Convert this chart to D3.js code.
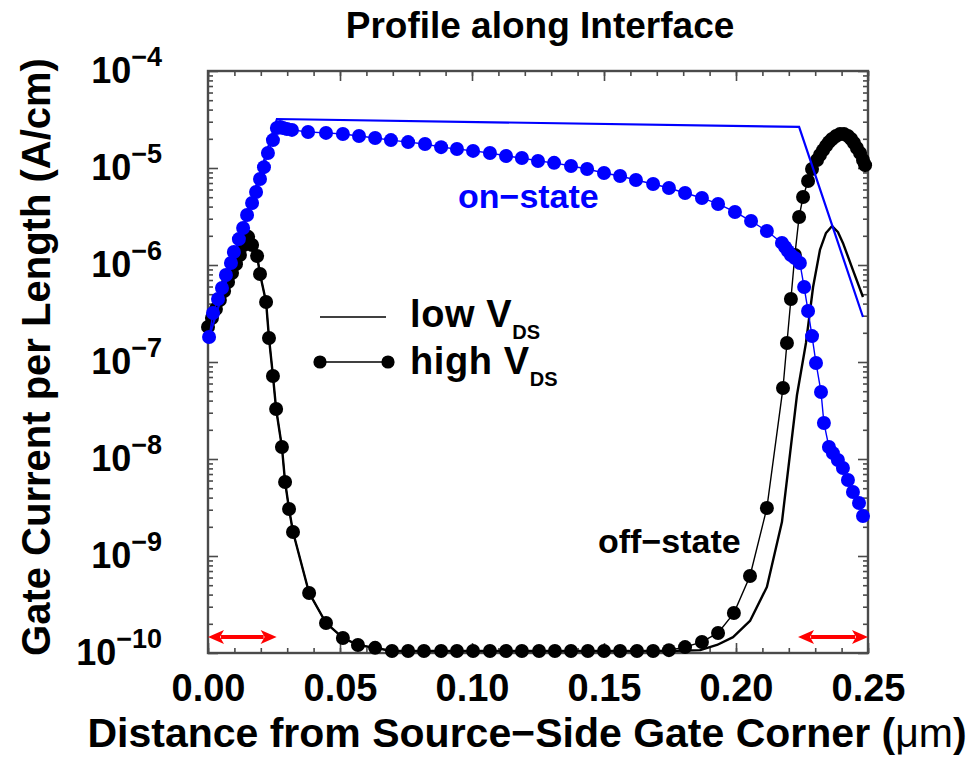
<!DOCTYPE html>
<html>
<head>
<meta charset="utf-8">
<script src="https://cdn.jsdelivr.net/npm/d3@7"></script>
<style>
  html, body { margin: 0; padding: 0; background: #fff; }
  svg { display: block; font-family: "Liberation Sans", Arial, Helvetica, sans-serif; }
</style>
</head>
<body>
<svg id="chart" width="976" height="767"></svg>
<script>
// ---- axis ticks ----
const xMajorTicks = [0, 0.05, 0.10, 0.15, 0.20, 0.25];
const xMinorTicks = d3.range(0, 26).map(i => i / 100);
const yDecadeExps = [-10, -9, -8, -7, -6, -5, -4];

// ---- off-state, part shared by low and high V_DS (source side and plateau) ----
const offSharedX = [0.0000, 0.0015, 0.0030, 0.0045, 0.0061, 0.0076, 0.0091, 0.0106, 0.0121, 0.0136,
  0.0152, 0.0167, 0.0186, 0.0197, 0.0220, 0.0231, 0.0246, 0.0258, 0.0280, 0.0292, 0.0307, 0.0322,
  0.0383, 0.0447, 0.0511, 0.0568, 0.0633, 0.0697, 0.0758, 0.0818, 0.0883, 0.0943, 0.1004, 0.1068,
  0.1129, 0.1189, 0.1254, 0.1314, 0.1375, 0.1439, 0.1500, 0.1561, 0.1625, 0.1686];
const offSharedY = [2.30e-7, 2.84e-7, 3.52e-7, 4.36e-7, 5.40e-7, 6.68e-7, 8.28e-7, 1.02e-6, 1.27e-6, 1.61e-6,
  1.95e-6, 1.61e-6, 1.24e-6, 8.07e-7, 4.16e-7, 1.77e-7, 7.18e-8, 3.28e-8, 1.33e-8, 5.80e-9, 3.05e-9, 1.77e-9,
  4.16e-10, 2.04e-10, 1.43e-10, 1.21e-10, 1.13e-10, 1.05e-10, 1.05e-10, 1.05e-10, 1.05e-10, 1.05e-10, 1.05e-10, 1.05e-10,
  1.05e-10, 1.05e-10, 1.05e-10, 1.05e-10, 1.05e-10, 1.05e-10, 1.05e-10, 1.05e-10, 1.05e-10, 1.05e-10];

// ---- off-state, drain side, high V_DS ----
const offHighTailX = [0.1746, 0.1807, 0.1871, 0.1932, 0.1992, 0.2053, 0.2117, 0.2178, 0.2193, 0.2208,
  0.2223, 0.2239, 0.2254, 0.2273, 0.2288, 0.2307, 0.2318, 0.2330, 0.2341, 0.2352, 0.2364, 0.2379,
  0.2394, 0.2409, 0.2424, 0.2436, 0.2447, 0.2458, 0.2470, 0.2481, 0.2489];
const offHighTailY = [1.07e-10, 1.15e-10, 1.30e-10, 1.61e-10, 2.58e-10, 6.22e-10, 3.13e-9, 5.40e-8, 1.57e-7, 4.46e-7,
  1.27e-6, 3.13e-6, 5.02e-6, 7.35e-6, 9.77e-6, 1.21e-5, 1.36e-5, 1.53e-5, 1.69e-5, 1.85e-5, 1.99e-5, 2.14e-5,
  2.24e-5, 2.24e-5, 2.14e-5, 1.99e-5, 1.81e-5, 1.61e-5, 1.43e-5, 1.21e-5, 1.07e-5];

// ---- off-state, drain side, low V_DS ----
const offLowTailX = [0.1746, 0.1864, 0.1928, 0.1989, 0.2053, 0.2117, 0.2174, 0.2205, 0.2231, 0.2265,
  0.2292, 0.2318, 0.2341, 0.2364, 0.2386, 0.2405, 0.2443, 0.2481];
const offLowTailY = [1.05e-10, 1.07e-10, 1.21e-10, 1.46e-10, 2.14e-10, 4.79e-10, 2.24e-9, 1.15e-8, 4.57e-8, 1.57e-7,
  5.93e-7, 1.43e-6, 2.14e-6, 2.52e-6, 2.19e-6, 1.69e-6, 8.87e-7, 4.68e-7];

// ---- on-state, high V_DS ----
const onHighX = [0.0004, 0.0019, 0.0038, 0.0053, 0.0068, 0.0087, 0.0098, 0.0117, 0.0133, 0.0148,
  0.0167, 0.0182, 0.0197, 0.0212, 0.0227, 0.0246, 0.0261, 0.0273, 0.0284, 0.0299, 0.0318, 0.0379,
  0.0447, 0.0511, 0.0572, 0.0633, 0.0693, 0.0758, 0.0822, 0.0883, 0.0943, 0.1004, 0.1068, 0.1129,
  0.1189, 0.1250, 0.1311, 0.1375, 0.1436, 0.1500, 0.1561, 0.1621, 0.1686, 0.1746, 0.1807, 0.1871,
  0.1932, 0.1996, 0.2057, 0.2117, 0.2174, 0.2186, 0.2197, 0.2208, 0.2223, 0.2242, 0.2258, 0.2273,
  0.2288, 0.2303, 0.2322, 0.2333, 0.2352, 0.2367, 0.2386, 0.2405, 0.2424, 0.2443, 0.2466, 0.2481];
const onHighY = [1.81e-7, 3.20e-7, 4.46e-7, 5.79e-7, 7.88e-7, 1.05e-6, 1.36e-6, 1.85e-6, 2.41e-6, 3.28e-6,
  4.36e-6, 5.66e-6, 7.70e-6, 1.02e-5, 1.43e-5, 1.94e-5, 2.58e-5, 2.65e-5, 2.58e-5, 2.52e-5, 2.47e-5, 2.35e-5,
  2.30e-5, 2.24e-5, 2.14e-5, 2.04e-5, 1.94e-5, 1.85e-5, 1.77e-5, 1.64e-5, 1.57e-5, 1.50e-5, 1.43e-5, 1.33e-5,
  1.27e-5, 1.18e-5, 1.13e-5, 1.05e-5, 9.77e-6, 8.88e-6, 8.27e-6, 7.52e-6, 6.84e-6, 6.22e-6, 5.52e-6, 4.91e-6,
  4.26e-6, 3.52e-6, 2.84e-6, 2.24e-6, 1.69e-6, 1.53e-6, 1.39e-6, 1.27e-6, 1.18e-6, 1.05e-6, 5.93e-7, 3.36e-7,
  1.85e-7, 9.77e-8, 4.91e-8, 2.35e-8, 1.33e-8, 1.15e-8, 9.77e-9, 8.07e-9, 6.08e-9, 4.57e-9, 3.52e-9, 2.58e-9];

// ---- on-state, low V_DS ----
const onLowX = [0.0004, 0.0261, 0.2239, 0.2481];
const onLowY = [1.81e-7, 3.20e-5, 2.65e-5, 2.91e-7];

// ---- overlap regions marked by red arrows (µm) ----
const overlapSpans = [[0.0, 0.026], [0.2235, 0.25]];
const overlapArrowLevel = 1.46e-10;

const zip = (xs, ys) => xs.map((v, i) => [v, ys[i]]);
const offHigh = zip(offSharedX.concat(offHighTailX), offSharedY.concat(offHighTailY));
const offLow = zip(offSharedX.concat(offLowTailX), offSharedY.concat(offLowTailY));
const onHigh = zip(onHighX, onHighY);
const onLow = zip(onLowX, onLowY);

const BLUE = "#0000ff", BLACK = "#000", AXIS = "#4a4a4a";

const svg = d3.select("#chart");
const plot = { left: 208, right: 868, top: 71, bottom: 653 };

const x = d3.scaleLinear().domain([0, 0.25]).range([plot.left, plot.right]);
const y = d3.scaleLog().domain([1e-10, 1e-4]).range([plot.bottom, plot.top]);

// ---- axes (ticks pointing inward) ----
const yMinor = [];
yDecadeExps.slice(0, -1).forEach(e => { for (let k = 2; k <= 9; k++) yMinor.push(k * Math.pow(10, e)); });
const yMajor = yDecadeExps.map(e => Math.pow(10, e));

function styleAxis(g) {
  g.select(".domain").remove();
  g.selectAll(".tick line").attr("stroke", AXIS).attr("stroke-width", 1.6);
}

// bottom
svg.append("g").attr("transform", `translate(0,${plot.bottom})`)
  .call(d3.axisBottom(x).tickValues(xMinorTicks).tickSize(-5).tickFormat(""))
  .call(styleAxis);
const xAxisG = svg.append("g").attr("transform", `translate(0,${plot.bottom})`)
  .call(d3.axisBottom(x).tickValues(xMajorTicks).tickSize(-10).tickPadding(21).tickFormat(d3.format(".2f")))
  .call(styleAxis);
xAxisG.selectAll(".tick text")
  .attr("font-size", 38).attr("font-weight", "bold").attr("fill", "#000")
  .attr("font-family", "'Liberation Sans', Arial, sans-serif");
// top
svg.append("g").attr("transform", `translate(0,${plot.top})`)
  .call(d3.axisTop(x).tickValues(xMinorTicks).tickSize(-5).tickFormat(""))
  .call(styleAxis);
svg.append("g").attr("transform", `translate(0,${plot.top})`)
  .call(d3.axisTop(x).tickValues(xMajorTicks).tickSize(-10).tickFormat(""))
  .call(styleAxis);
// left
svg.append("g").attr("transform", `translate(${plot.left},0)`)
  .call(d3.axisLeft(y).tickValues(yMinor).tickSize(-5).tickFormat(""))
  .call(styleAxis);
svg.append("g").attr("transform", `translate(${plot.left},0)`)
  .call(d3.axisLeft(y).tickValues(yMajor).tickSize(-10).tickFormat(""))
  .call(styleAxis);
// right
svg.append("g").attr("transform", `translate(${plot.right},0)`)
  .call(d3.axisRight(y).tickValues(yMinor).tickSize(-5).tickFormat(""))
  .call(styleAxis);
svg.append("g").attr("transform", `translate(${plot.right},0)`)
  .call(d3.axisRight(y).tickValues(yMajor).tickSize(-10).tickFormat(""))
  .call(styleAxis);

// frame
svg.append("rect")
  .attr("x", plot.left).attr("y", plot.top)
  .attr("width", plot.right - plot.left).attr("height", plot.bottom - plot.top)
  .attr("fill", "none").attr("stroke", AXIS).attr("stroke-width", 2.4);

// y tick labels: 10 with superscript exponent
yDecadeExps.forEach(e => {
  const t = svg.append("text")
    .attr("x", 162).attr("y", y(Math.pow(10, e)) + 12)
    .attr("text-anchor", "end").attr("font-weight", "bold").attr("fill", "#000");
  t.append("tspan").attr("font-size", 36).text("10");
  t.append("tspan").attr("font-size", 27).attr("dy", -17).text("\u2212" + Math.abs(e));
});

// ---- series ----
const line = d3.line().x(d => x(d[0])).y(d => y(d[1]));
const curves = svg.append("g");

// off-state, low V_DS (plain line)
curves.append("path").datum(offLow).attr("d", line)
  .attr("fill", "none").attr("stroke", BLACK).attr("stroke-width", 2.4).attr("stroke-linejoin", "round");
// off-state, high V_DS (thin line with markers)
curves.append("path").datum(offHigh).attr("d", line)
  .attr("fill", "none").attr("stroke", BLACK).attr("stroke-width", 1.4);
curves.append("g").selectAll("circle").data(offHigh).join("circle")
  .attr("cx", d => x(d[0])).attr("cy", d => y(d[1])).attr("r", 7).attr("fill", BLACK);

// on-state, low V_DS
curves.append("path").datum(onLow).attr("d", line)
  .attr("fill", "none").attr("stroke", BLUE).attr("stroke-width", 2.2);
// on-state, high V_DS
curves.append("path").datum(onHigh).attr("d", line)
  .attr("fill", "none").attr("stroke", BLUE).attr("stroke-width", 1.4);
curves.append("g").selectAll("circle").data(onHigh).join("circle")
  .attr("cx", d => x(d[0])).attr("cy", d => y(d[1])).attr("r", 7).attr("fill", BLUE);

// ---- double-headed red arrows for the overlap regions ----
const arrows = svg.append("g");
overlapSpans.forEach(([a, b]) => {
  const x0 = x(a), x1 = x(b), yy = y(overlapArrowLevel);
  const head = 16, half = 7;
  arrows.append("line")
    .attr("x1", x0 + head - 3).attr("x2", x1 - head + 3).attr("y1", yy).attr("y2", yy)
    .attr("stroke", "#ff0000").attr("stroke-width", 4);
  arrows.append("path")
    .attr("d", `M${x0},${yy} L${x0 + head},${yy - half} L${x0 + head - 4},${yy} L${x0 + head},${yy + half} Z`)
    .attr("fill", "#ff0000");
  arrows.append("path")
    .attr("d", `M${x1},${yy} L${x1 - head},${yy - half} L${x1 - head + 4},${yy} L${x1 - head},${yy + half} Z`)
    .attr("fill", "#ff0000");
});

// ---- annotations ----
svg.append("text").attr("x", 458).attr("y", 208)
  .attr("font-size", 34).attr("font-weight", "bold").attr("fill", BLUE).text("on\u2212state");
svg.append("text").attr("x", 598).attr("y", 553)
  .attr("font-size", 34).attr("font-weight", "bold").attr("fill", BLACK).text("off\u2212state");

// ---- legend ----
const legend = svg.append("g");
legend.append("line").attr("x1", 320).attr("x2", 386).attr("y1", 317).attr("y2", 317)
  .attr("stroke", BLACK).attr("stroke-width", 1.6);
legend.append("line").attr("x1", 320).attr("x2", 388).attr("y1", 362).attr("y2", 362)
  .attr("stroke", BLACK).attr("stroke-width", 1.4);
[320, 388].forEach(cx => legend.append("circle").attr("cx", cx).attr("cy", 362).attr("r", 6.6).attr("fill", BLACK));
function legendLabel(txt, yy) {
  const t = legend.append("text").attr("x", 410).attr("y", yy)
    .attr("font-weight", "bold").attr("fill", BLACK);
  t.append("tspan").attr("font-size", 38).attr("letter-spacing", 0.6).text(txt + " V");
  t.append("tspan").attr("font-size", 20).attr("dy", 12).text("DS");
}
legendLabel("low", 327);
legendLabel("high", 374);

// ---- titles ----
svg.append("text").attr("x", 540).attr("y", 38).attr("text-anchor", "middle")
  .attr("font-size", 37).attr("font-weight", "bold").attr("fill", "#000")
  .text("Profile along Interface");

const xt = svg.append("text").attr("x", 527).attr("y", 747).attr("text-anchor", "middle")
  .attr("font-size", 41).attr("font-weight", "bold").attr("fill", "#000");
xt.append("tspan").text("Distance from Source\u2212Side Gate Corner (");
xt.append("tspan").attr("font-weight", "normal").text("\u03bcm");
xt.append("tspan").text(")");

svg.append("text")
  .attr("transform", `translate(50,357) rotate(-90)`)
  .attr("text-anchor", "middle")
  .attr("font-size", 40).attr("font-weight", "bold").attr("fill", "#000")
  .text("Gate Current per Length (A/cm)");
</script>
</body>
</html>
